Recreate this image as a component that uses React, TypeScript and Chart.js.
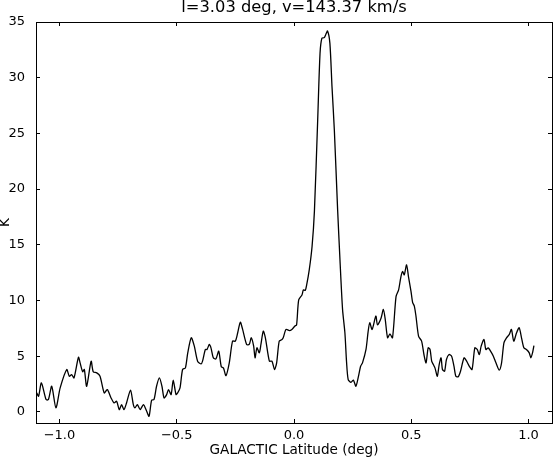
import React, { useEffect, useRef } from "react";
import { Chart, registerables } from "chart.js";

Chart.register(...registerables);

const TITLE = "l=3.03 deg, v=143.37 km/s";
const X_LABEL = "GALACTIC Latitude (deg)";
const Y_LABEL = "K";

const X_TICKS = [-1.0, -0.5, 0.0, 0.5, 1.0];
const Y_TICKS = [0, 5, 10, 15, 20, 25, 30, 35];

// Galactic latitude (deg) of each traced sample
const latitude = [
  -1.097, -1.089, -1.077, -1.057, -1.047, -1.033, -1.015, -0.997, -0.969, -0.958,
  -0.948, -0.938, -0.919, -0.912, -0.901, -0.894, -0.884, -0.865, -0.856, -0.841,
  -0.827, -0.809, -0.796, -0.780, -0.767, -0.756, -0.745, -0.735, -0.725, -0.714,
  -0.697, -0.685, -0.678, -0.668, -0.656, -0.642, -0.628, -0.618, -0.607, -0.597,
  -0.586, -0.574, -0.563, -0.554, -0.543, -0.535, -0.524, -0.515, -0.503, -0.496,
  -0.486, -0.475, -0.463, -0.453, -0.438, -0.425, -0.411, -0.396, -0.390, -0.378,
  -0.371, -0.361, -0.354, -0.344, -0.333, -0.321, -0.310, -0.301, -0.290, -0.276,
  -0.262, -0.250, -0.240, -0.229, -0.219, -0.202, -0.191, -0.182, -0.172, -0.166,
  -0.158, -0.148, -0.141, -0.131, -0.122, -0.105, -0.094, -0.083, -0.074, -0.063,
  -0.051, -0.046, -0.034, -0.020, -0.009, 0.004, 0.011, 0.020, 0.034, 0.040,
  0.048, 0.054, 0.065, 0.077, 0.087, 0.101, 0.111, 0.119, 0.129, 0.136,
  0.143, 0.153, 0.162, 0.172, 0.186, 0.196, 0.207, 0.217, 0.224, 0.231,
  0.243, 0.253, 0.264, 0.275, 0.284, 0.292, 0.307, 0.316, 0.323, 0.333,
  0.349, 0.356, 0.371, 0.381, 0.389, 0.399, 0.409, 0.420, 0.435, 0.446,
  0.456, 0.463, 0.470, 0.480, 0.488, 0.499, 0.506, 0.513, 0.520, 0.531,
  0.544, 0.554, 0.563, 0.572, 0.580, 0.587, 0.594, 0.601, 0.611, 0.619,
  0.627, 0.633, 0.642, 0.650, 0.661, 0.672, 0.682, 0.690, 0.700, 0.710,
  0.725, 0.736, 0.747, 0.759, 0.771, 0.781, 0.790, 0.798, 0.810, 0.818,
  0.828, 0.838, 0.850, 0.861, 0.875, 0.885, 0.895, 0.906, 0.918, 0.927,
  0.937, 0.949, 0.960, 0.970, 0.980, 0.991, 1.003, 1.010, 1.017, 1.023,
];

// Brightness temperature (K) at each latitude
const temperature = [
  1.70, 1.40, 2.60, 1.10, 1.10, 2.30, 0.36, 2.15, 3.80, 3.20,
  3.35, 3.05, 4.90, 4.40, 3.60, 3.80, 2.30, 4.55, 3.60, 3.50,
  3.20, 1.70, 2.00, 1.25, 0.80, 0.95, 0.20, 0.65, 0.20, 0.80,
  1.95, 0.65, 0.36, 0.65, 0.20, 0.65, 0.05, -0.40, 1.05, 1.10,
  2.30, 3.05, 2.30, 1.25, 1.55, 2.00, 1.55, 2.85, 1.55, 1.70,
  2.15, 3.80, 3.95, 5.30, 6.65, 5.90, 4.55, 4.30, 4.55, 5.60,
  5.60, 6.05, 5.75, 4.85, 4.75, 5.45, 4.05, 3.95, 3.25, 4.40,
  6.35, 6.35, 7.10, 8.05, 7.40, 6.05, 6.05, 6.65, 5.90, 4.85,
  5.75, 5.30, 6.05, 7.25, 6.65, 4.55, 4.55, 3.80, 4.40, 6.35,
  6.50, 6.65, 7.40, 7.30, 7.40, 7.70, 7.80, 10.05, 10.50, 10.95,
  10.90, 11.40, 12.75, 14.85, 18.00, 26.20, 32.20, 33.55, 33.60, 33.90,
  34.20, 33.10, 29.20, 25.30, 18.15, 13.65, 9.20, 7.10, 4.50, 2.90,
  2.65, 2.85, 2.30, 3.20, 4.10, 4.40, 5.60, 7.20, 8.00, 7.40,
  8.60, 7.80, 8.40, 9.20, 8.30, 6.65, 7.00, 6.65, 10.35, 10.95,
  12.15, 12.60, 12.30, 13.20, 12.15, 10.80, 9.80, 9.50, 8.60, 6.80,
  6.35, 5.15, 4.40, 5.75, 5.60, 4.55, 4.25, 3.95, 3.20, 4.25,
  4.85, 3.80, 3.65, 4.70, 5.15, 5.00, 4.10, 3.20, 3.15, 3.65,
  4.85, 4.55, 4.10, 3.80, 5.75, 5.60, 5.15, 5.90, 6.50, 5.60,
  5.75, 5.45, 5.00, 4.40, 3.75, 4.40, 6.20, 6.65, 6.95, 7.40,
  6.35, 7.10, 7.55, 6.65, 5.75, 5.60, 5.30, 4.85, 5.30, 5.95,
];

const FONT = "'DejaVu Sans', sans-serif";

const framePlugin = {
  id: "mplFrame",
  afterDraw(chart: any) {
    const { ctx, chartArea } = chart;
    const { left, right, top, bottom } = chartArea;
    const xs = chart.scales.x;
    const ys = chart.scales.y;
    const tick = 4;
    ctx.save();
    ctx.strokeStyle = "#000";
    ctx.lineWidth = 1;
    ctx.beginPath();
    for (const v of X_TICKS) {
      const px = Math.floor(xs.getPixelForValue(v)) + 0.5;
      ctx.moveTo(px, bottom);
      ctx.lineTo(px, bottom - tick);
      ctx.moveTo(px, top);
      ctx.lineTo(px, top + tick);
    }
    for (const v of Y_TICKS) {
      const py = Math.floor(ys.getPixelForValue(v)) + 0.5;
      ctx.moveTo(left, py);
      ctx.lineTo(left + tick, py);
      ctx.moveTo(right, py);
      ctx.lineTo(right - tick, py);
    }
    ctx.stroke();
    ctx.strokeRect(left + 0.5, top + 0.5, right - left, bottom - top);
    ctx.restore();
  },
};

export default function App() {
  const ref = useRef<HTMLCanvasElement | null>(null);

  useEffect(() => {
    if (!ref.current) return;
    const data = latitude.map((x, i) => ({ x, y: temperature[i] }));
    const chart = new Chart(ref.current, {
      type: "line",
      data: {
        datasets: [
          {
            data,
            borderColor: "#000",
            borderWidth: 1.3,
            pointRadius: 0,
            tension: 0.25,
            fill: false,
          },
        ],
      },
      options: {
        responsive: false,
        animation: false,
        devicePixelRatio: 1,
        layout: { padding: { top: 0, left: 0, right: 2, bottom: 0 } },
        plugins: {
          legend: { display: false },
          tooltip: { enabled: false },
          title: {
            display: true,
            text: TITLE,
            fullSize: false,
            color: "#000",
            font: { family: FONT, size: 16.3, weight: "normal", lineHeight: "15.6px" },
            padding: { top: 0, bottom: 6.4 },
          },
        },
        scales: {
          x: {
            type: "linear",
            min: -1.1,
            max: 1.1,
            grid: { display: false },
            border: { display: false },
            afterBuildTicks: (scale: any) => {
              scale.ticks = X_TICKS.map((value) => ({ value }));
            },
            afterFit: (scale: any) => {
              scale.height = 35;
            },
            ticks: {
              color: "#000",
              padding: -3.4,
              maxRotation: 0,
              font: { family: FONT, size: 13 },
              callback: (v: any) => {
                const n = Number(v);
                return (n < 0 ? "\u2212" : "") + Math.abs(n).toFixed(1);
              },
            },
            title: {
              display: true,
              text: X_LABEL,
              color: "#000",
              font: { family: FONT, size: 13.6, lineHeight: 1.05 },
              padding: 0,
            },
          },
          y: {
            type: "linear",
            min: -1,
            max: 35,
            grid: { display: false },
            border: { display: false },
            afterBuildTicks: (scale: any) => {
              scale.ticks = Y_TICKS.map((value) => ({ value }));
            },
            afterFit: (scale: any) => {
              scale.width = 36;
            },
            ticks: {
              color: "#000",
              padding: 3,
              font: { family: FONT, size: 13 },
              callback: (v: any) => String(v),
            },
            title: {
              display: true,
              text: Y_LABEL,
              color: "#000",
              font: { family: FONT, size: 13.6, lineHeight: 0.87 },
              padding: 0,
            },
          },
        },
      },
      plugins: [framePlugin],
    });
    return () => chart.destroy();
  }, []);

  return (
    <div style={{ position: "fixed", left: 0, top: 0, width: 554, height: 458, background: "#fff" }}>
      <canvas ref={ref} width={554} height={458} style={{ display: "block" }} />
    </div>
  );
}
